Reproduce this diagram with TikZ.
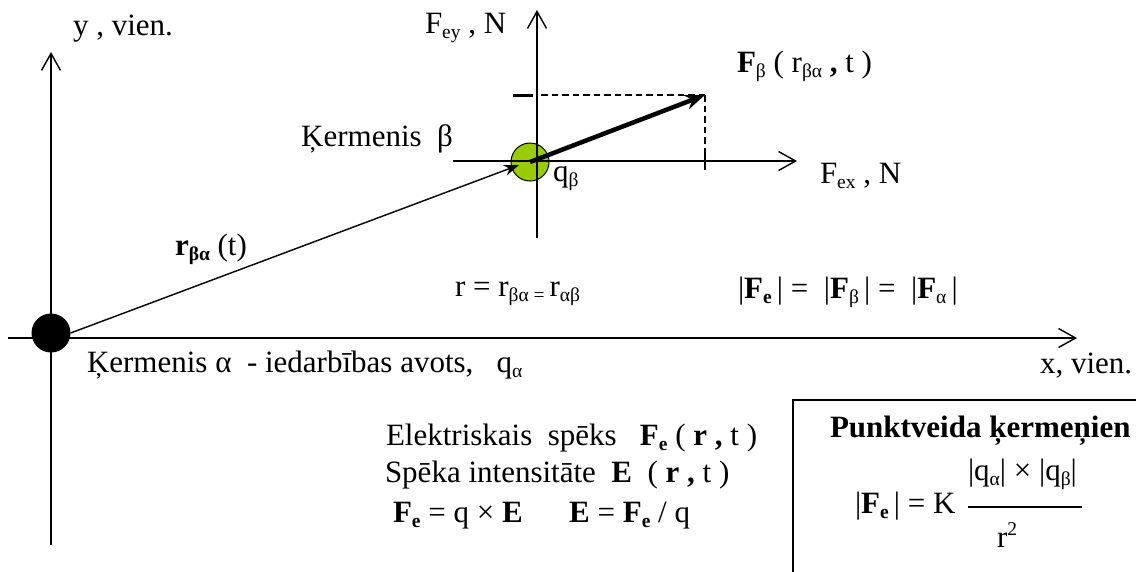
\documentclass[tikz,border=0pt]{standalone}
\usepackage{fontspec}
\setmainfont{Liberation Serif}
\usetikzlibrary{arrows.meta}
\definecolor{ballgreen}{RGB}{153,204,0}
\newcommand\bigtxt{\fontsize{31}{37}\selectfont}
\newcommand\sbs[1]{\raisebox{-5pt}{\fontsize{19.5}{20}\selectfont #1}}
\newcommand\sps[1]{\raisebox{12pt}{\fontsize{19.5}{20}\selectfont #1}}
\begin{document}
\begin{tikzpicture}[x=1pt,y=-1pt,
  lbl/.style={inner sep=0pt, outer sep=0pt, anchor=base west, font=\bigtxt},
  axisline/.style={line width=1.4pt, -{Straight Barb[length=17pt,width=19pt,line width=1.4pt]}},
  thinline/.style={line width=1.4pt},
  dashline/.style={line width=1.4pt, dash pattern=on 6.5pt off 4pt},
  radius/.style={line width=1.4pt, -{Stealth[length=15pt,width=11pt]}},
  force/.style={line width=4.5pt, -{Stealth[length=20pt,width=15pt]}},
  tick/.style={line width=1.5pt},
  bigtick/.style={line width=3pt}]
\useasboundingbox (0,0) rectangle (1136,571);
\clip (0,0) rectangle (1136,571);

% coordinates
\coordinate (ybot) at (51,545);
\coordinate (ytop) at (51,52);
\coordinate (xleft) at (8,338);
\coordinate (xright) at (1077,338);
\coordinate (fyb) at (537,238);
\coordinate (fyt) at (537,10);
\coordinate (fxl) at (453,161);
\coordinate (fxr) at (797,161);
\coordinate (rtip) at (519,165);
\coordinate (ftip) at (705,95);
\coordinate (dashl) at (540,95);
\coordinate (dashb) at (705,161);
\coordinate (tyl) at (513,95);
\coordinate (tyr) at (533,95);
\coordinate (txt) at (705,152);
\coordinate (txb) at (705,170);
\coordinate (boxtl) at (793,400);
\coordinate (boxbr) at (1160,600);
\coordinate (fracl) at (968,507);
\coordinate (fracr) at (1082,507);

% bodies
\node[circle, fill=ballgreen, draw=black, line width=1pt, minimum size=38pt, inner sep=0pt] (beta) at (530,162) {};
\node[circle, fill=black, minimum size=39pt, inner sep=0pt] (alpha) at (51,333) {};

% axes
\draw[axisline] (ybot) -- (ytop);
\draw[axisline] (xleft) -- (xright);
\draw[axisline] (fyb) -- (fyt);
\draw[axisline] (fxl) -- (fxr);

% vectors
\draw[radius] (alpha.east) -- (rtip);
\draw[dashline] (ftip) -- (dashl);
\draw[dashline] (ftip) -- (dashb);
\draw[bigtick] (tyl) -- (tyr);
\draw[tick] (txt) -- (txb);
\draw[force] (beta.center) -- (ftip);

% box
\draw[line width=1.5pt] (boxtl) rectangle (boxbr);
\draw[line width=1.5pt] (fracl) -- (fracr);

% labels
\node[lbl] (ylab) at (73,35) {y , vien.};
\node[lbl] (fey) at (425,33) {F\sbs{ey} , N};
\node[lbl] (fbeta) at (737,72) {\textbf{F}\sbs{β} ( r\sbs{βα} \textbf{,} t )};
\node[lbl, anchor=base east] (kb) at (453,146) {Ķermenis~~β};
\node[lbl] (qb) at (553,181) {q\sbs{β}};
\node[lbl] (fex) at (820,183) {F\sbs{ex} , N};
\node[lbl] (rlab) at (175,255) {\textbf{r\sbs{βα}} (t)};
\node[lbl] (req) at (455,296) {r = r\sbs{βα = }r\sbs{αβ}};
\node[lbl] (fabs) at (738,298) {|\textbf{F\sbs{e}}\,| =~ |\textbf{F}\sbs{β}\,| =~ |\textbf{F}\sbs{α}\,|};
\node[lbl] (ka) at (87,372) {Ķermenis α~ - iedarbības avots,~~ q\sbs{α}};
\node[lbl] (xlab) at (1040,373) {x, vien.};
\node[lbl] (el1) at (386,445) {Elektriskais~ spēks~~ \textbf{F\sbs{e}} ( \textbf{r ,} t )};
\node[lbl] (el2) at (385,482) {Spēka intensitāte~ \textbf{E}~ ( \textbf{r ,} t )};
\node[lbl] (el3) at (393,522) {\textbf{F\sbs{e}} = q × \textbf{E}~~~~~ \textbf{E} = \textbf{F\sbs{e}} / q};
\node[lbl, font=\bigtxt\bfseries] (pk) at (830,437) {Punktveida ķermeņien};
\node[lbl] (fk) at (855,513) {|\textbf{F\sbs{e}}\,| = K};
\node[lbl] (num) at (968,480) {|q\sbs{α}| × |q\sbs{β}|};
\node[lbl] (den) at (997,547) {r\sps{2}};
\end{tikzpicture}
\end{document}
